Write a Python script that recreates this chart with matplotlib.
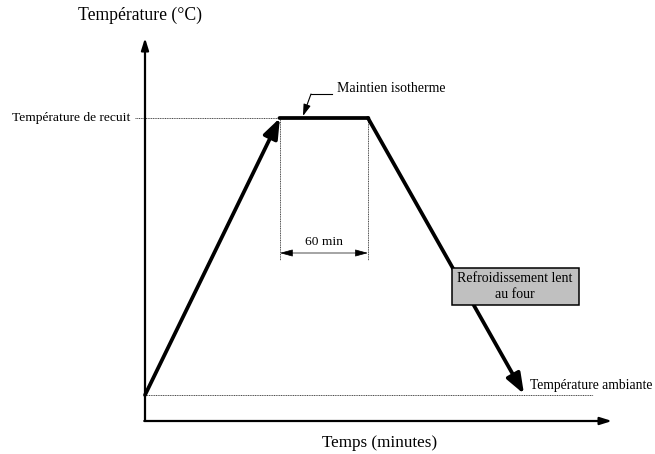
import matplotlib
matplotlib.use("Agg")
import matplotlib.pyplot as plt
from matplotlib.patches import Rectangle

plt.rcParams['font.family'] = ['Liberation Serif', 'DejaVu Serif']

# Data: annealing cycle (time in minutes, temperature in arbitrary °C)
times = [0, 92, 152, 257]
temps = [20, 700, 700, 20]
T_amb = 20
T_recuit = 700
hold_label = "60 min"

W, H = 655, 454
fig = plt.figure(figsize=(W / 100, H / 100), dpi=100)
ax = fig.add_axes([0, 0, 1, 1])
ax.set_axis_off()

# pixel <-> data mapping (layout)
x0_px, sx = 145, 88 / 60.0
y0_px, sy = 395, 277 / 680.0
ax.set_xlim(-x0_px / sx, (W - x0_px) / sx)
ax.set_ylim(T_amb - (H - y0_px) / sy, T_amb + y0_px / sy)

def P(xp, yp):
    return ((xp - x0_px) / sx, T_amb + (y0_px - yp) / sy)

# axes with arrows
ox, oy = P(145, 421)
ax.annotate("", xy=P(145, 38), xytext=(ox, oy),
            arrowprops=dict(arrowstyle="-|>,head_length=0.7,head_width=0.22",
                            lw=1.6, color="black", shrinkA=0, shrinkB=0))
ax.annotate("", xy=P(612, 421), xytext=(ox - 0.5, oy),
            arrowprops=dict(arrowstyle="-|>,head_length=0.7,head_width=0.22",
                            lw=1.6, color="black", shrinkA=0, shrinkB=0))

# dashed reference lines
ax.plot([P(135, 0)[0], times[1]], [T_recuit, T_recuit], color="black", lw=0.5, ls=(0, (1.5, 1)))
ax.plot([times[0], P(593, 0)[0]], [T_amb, T_amb], color="black", lw=0.5, ls=(0, (1.5, 1)))

# vertical dotted lines of the hold
yb = P(0, 260)[1]
for t in (times[1], times[2]):
    ax.plot([t, t], [T_recuit, yb], color="black", lw=0.5, ls=(0, (1.5, 1)))

# double arrow "60 min"
ya = P(0, 253)[1]
ax.annotate("", xy=(times[1], ya), xytext=(times[2], ya),
            arrowprops=dict(arrowstyle="<|-|>,head_length=0.8,head_width=0.22",
                            lw=0.5, color="black", shrinkA=0, shrinkB=0))
ax.text((times[1] + times[2]) / 2, P(0, 242)[1], hold_label, ha="center", va="center", fontsize=9.7)

# curve
LW = 2.7
ax.annotate("", xy=(times[1], temps[1]), xytext=(times[0], temps[0]),
            arrowprops=dict(arrowstyle="-|>,head_length=1.2,head_width=0.45",
                            lw=LW, color="black", shrinkA=0, shrinkB=0))
ax.annotate("", xy=(times[2] + 0.3, temps[2]), xytext=(times[1] - 0.3, temps[1]),
            arrowprops=dict(arrowstyle="-", lw=LW, color="black", shrinkA=0, shrinkB=0))
ax.annotate("", xy=P(524, 394), xytext=(times[2], temps[2]),
            arrowprops=dict(arrowstyle="-|>,head_length=1.2,head_width=0.45",
                            lw=LW, color="black", shrinkA=0, shrinkB=0))

# "Maintien isotherme" leader
lx, ly = zip(P(332, 94), P(311, 94))
ax.plot(lx, ly, color="black", lw=0.8)
ax.annotate("", xy=P(303, 116), xytext=P(311, 94),
            arrowprops=dict(arrowstyle="-|>,head_length=0.7,head_width=0.22",
                            lw=0.8, color="black", shrinkA=0, shrinkB=0))
ax.text(*P(337, 88), "Maintien isotherme", ha="left", va="center", fontsize=10)

# gray box
bx0, by0 = P(452, 305)
bx1, by1 = P(579, 268)
ax.add_patch(Rectangle((bx0, by0), bx1 - bx0, by1 - by0, fc="#c0c0c0", ec="black",
                       lw=1.1, zorder=5))
ax.text(*P(515, 278), "Refroidissement lent", ha="center", va="center", fontsize=10, zorder=6)
ax.text(*P(515, 294), "au four", ha="center", va="center", fontsize=10, zorder=6)

# labels
ax.text(*P(140, 15), "Température (°C)", ha="center", va="center", fontsize=12.7)
ax.text(*P(12, 118), "Température de recuit", ha="left", va="center", fontsize=9.7)
ax.text(*P(530, 385), "Température ambiante", ha="left", va="center", fontsize=9.8)
ax.text(*P(380, 443), "Temps (minutes)", ha="center", va="center", fontsize=12.3)

fig.savefig("out.png", dpi=100)
